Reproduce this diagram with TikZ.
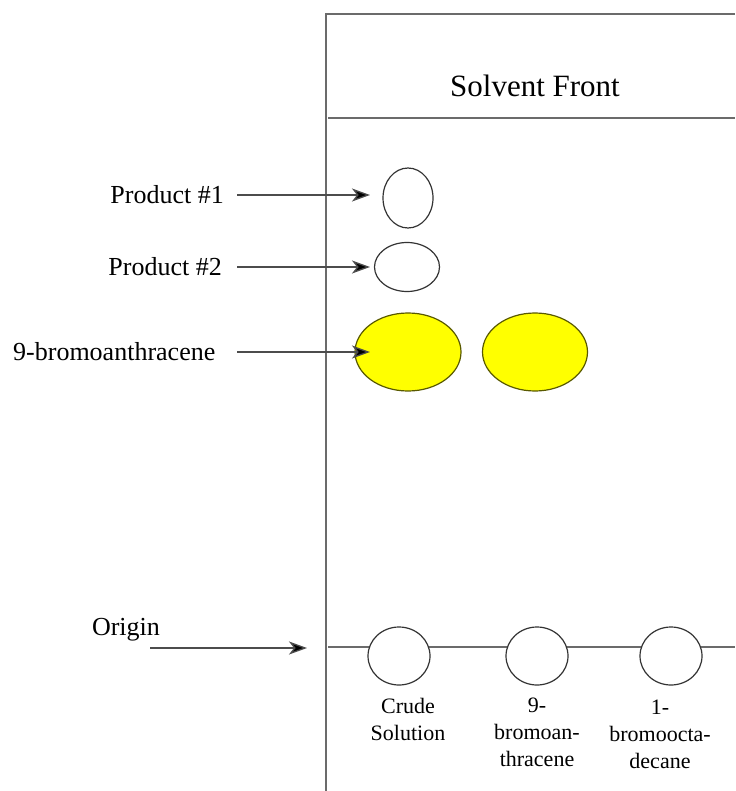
\documentclass[tikz,border=0pt]{standalone}
\usepackage{fontspec}
\setmainfont{Liberation Serif}
\usepackage{tikz}
\usetikzlibrary{shapes.geometric,arrows.meta,positioning}
\definecolor{framegray}{rgb}{0.42, 0.42, 0.42}
\definecolor{spotline}{rgb}{0.2, 0.2, 0.2}
\definecolor{spotyellow}{rgb}{1.0, 1.0, 0.0}

\begin{document}
\begin{tikzpicture}[x=1pt, y=-1pt,
  spot/.style={ellipse, draw=spotline, line width=1.2pt, fill=white, inner sep=0pt},
  ylspot/.style={spot, fill=spotyellow, draw=black!65!spotyellow},
  lbl/.style={font=\fontsize{26}{31}\selectfont, inner sep=0pt},
  lane/.style={font=\fontsize{22}{27}\selectfont, align=center, inner sep=0pt, anchor=north},
  plate/.style={framegray, line width=1.8pt},
  arr/.style={line width=1.3pt, draw=black!70, -{Stealth[length=18pt, width=13pt, inset=5pt, fill=black]}}]
\useasboundingbox (0,0) rectangle (735,791);
%\draw [very thin, gray] (0,0) grid[step=50] (735,791);
% the plate
\draw [plate] (735,14) -- (326,14) -- (326,791);
\draw [plate] (328,118) -- (735,118);
\node[font=\fontsize{31}{37}\selectfont] (front) at (535,86) {Solvent Front};
% origin line, drawn under the spots
\draw [plate] (328,647) -- (735,647);
% spots that moved
\node[spot, minimum width=50pt, minimum height=60pt] (p1) at (408,198) {};
\node[spot, minimum width=65pt, minimum height=49pt] (p2) at (407,267) {};
\node[ylspot, minimum width=106pt, minimum height=78pt] (b1) at (408,352) {};
\node[ylspot, minimum width=105pt, minimum height=78pt] (b2) at (535,352) {};
% spots at the origin
\node[spot, minimum width=62pt, minimum height=58pt] (c1) at (399,656) {};
\node[spot, minimum width=62pt, minimum height=58pt] (c2) at (537,656) {};
\node[spot, minimum width=62pt, minimum height=58pt] (c3) at (671,656) {};
\node[lane] (l1) at (408,698) {Crude\\Solution};
\node[lane] (l2) at (537,698) {9-\\bromoan-\\thracene};
\node[lane] (l3) at (660,700) {1-\\bromoocta-\\decane};
% labels on the left
\node[lbl, anchor=east] (t1) at (224,195) {Product \#1};
\node[lbl, anchor=east] (t2) at (222,267) {Product \#2};
\node[lbl, anchor=west] (t3) at (13,352) {9-bromoanthracene};
\node[lbl] (org) at (126,630) {Origin};
\coordinate (tailx) at (237,0);
\coordinate (tipx) at (370,0);
\coordinate (os) at (150,648);
\coordinate (ot) at (307,648);
\draw [arr] (t1.east -| tailx) -- (t1.east -| tipx);
\draw [arr] (t2.east -| tailx) -- (t2.east -| tipx);
\draw [arr] (t3.east -| tailx) -- (t3.east -| tipx);
\draw [arr] (os) -- (ot);
\end{tikzpicture}
\end{document}
